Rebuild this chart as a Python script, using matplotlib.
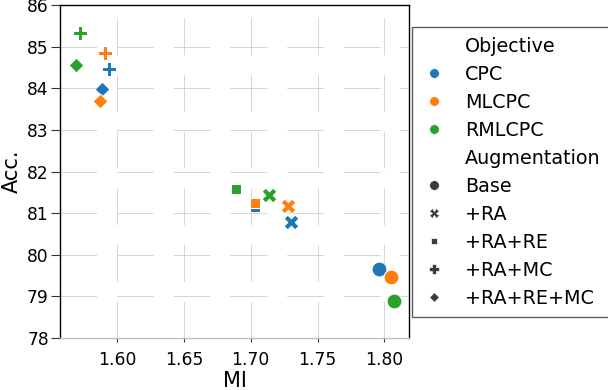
import matplotlib
matplotlib.use("Agg")
import matplotlib.pyplot as plt
from matplotlib.lines import Line2D

objectives = ["CPC", "MLCPC", "RMLCPC"]
augmentations = ["Base", "+RA", "+RA+RE", "+RA+MC", "+RA+RE+MC"]
colors = ["#1f77b4", "#ff7f0e", "#2ca02c"]
markers = ["o", "X", (4, 0, 45), "P", (4, 0, 0)]

# MI values per objective and augmentation
mi_cpc = [1.796, 1.730, 1.7035, 1.594, 1.589]
mi_mlcpc = [1.805, 1.728, 1.7035, 1.591, 1.5875]
mi_rmlcpc = [1.807, 1.714, 1.689, 1.5725, 1.569]

acc_cpc = [79.66, 80.80, 81.14, 84.47, 83.98]
acc_mlcpc = [79.46, 81.18, 81.24, 84.84, 83.70]
acc_rmlcpc = [78.89, 81.43, 81.57, 85.33, 84.56]

mi_all = [mi_cpc, mi_mlcpc, mi_rmlcpc]
acc_all = [acc_cpc, acc_mlcpc, acc_rmlcpc]

xticks = [1.60, 1.65, 1.70, 1.75, 1.80]
yticks = [78, 79, 80, 81, 82, 83, 84, 85, 86]

fig = plt.figure(figsize=(6.08, 3.90), dpi=100)
ax = fig.add_axes([0.0987, 0.1333, 0.5745, 0.8535])

for oi, obj in enumerate(objectives):
    for ai, aug in enumerate(augmentations):
        ax.scatter(mi_all[oi][ai], acc_all[oi][ai], s=115, marker=markers[ai],
                   color=colors[oi], edgecolor="white", linewidth=0.75, zorder=3)

ax.set_xlim(1.5573, 1.8187)
ax.set_ylim(78, 86)
ax.set_xticks(xticks)
ax.set_xticklabels([f"{v:.2f}" for v in xticks])
ax.set_yticks(yticks)
ax.set_yticklabels([str(v) for v in yticks])
ax.tick_params(axis="x", length=3, width=0.8, color="#333333", pad=6, labelsize=12.3)
ax.tick_params(axis="y", length=6.5, width=0.8, color="#333333", pad=1.5, labelsize=12.3)
ax.grid(True, color="#cfcfcf", linestyle=(0, (44, 24)), linewidth=0.6, zorder=0)
ax.set_axisbelow(True)
for side in ["left", "top", "right"]:
    ax.spines[side].set_color("black")
    ax.spines[side].set_linewidth(1.0)
ax.spines["bottom"].set_color("#c0c0c0")
ax.spines["bottom"].set_linewidth(1.0)

ax.set_xlabel("MI", fontsize=15, labelpad=2)
ax.set_ylabel("Acc.", fontsize=15, labelpad=4)

handles = []
labels = []
handles.append(Line2D([], [], linestyle="", marker="", markersize=0))
labels.append("Objective")
for oi, obj in enumerate(objectives):
    handles.append(Line2D([], [], linestyle="", marker="o", color=colors[oi],
                          markersize=7, markeredgecolor="white", markeredgewidth=0.5))
    labels.append(obj)
handles.append(Line2D([], [], linestyle="", marker="", markersize=0))
labels.append("Augmentation")
for ai, aug in enumerate(augmentations):
    handles.append(Line2D([], [], linestyle="", marker=markers[ai], color="#3a3a3a",
                          markersize=7, markeredgecolor="white", markeredgewidth=0.5))
    labels.append(aug)

leg = ax.legend(handles, labels, loc="upper left", bbox_to_anchor=(1.0077, 0.934),
                fontsize=13.8, frameon=True, fancybox=False, borderaxespad=0,
                handlelength=1.34, handletextpad=0.93, labelspacing=0.47,
                borderpad=0.5)
leg.get_frame().set_edgecolor("#333333")
leg.get_frame().set_linewidth(1.0)

fig.savefig("out.png", dpi=100)
